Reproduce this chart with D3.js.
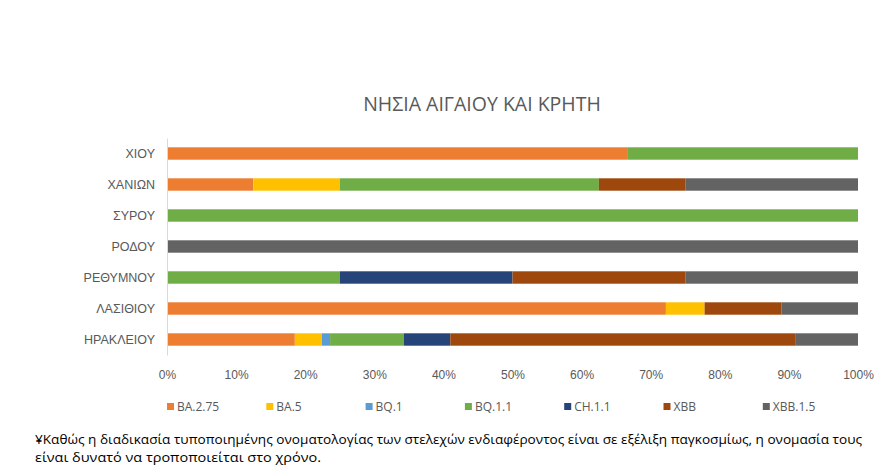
<!DOCTYPE html>
<html>
<head>
<meta charset="UTF-8">
<script src="https://d3js.org/d3.v7.min.js"></script>
<style>
  body { margin: 0; background: #fff; }
  svg { font-family: "Open Sans", "Noto Sans", sans-serif; }
  .cat text, .xax text { fill: #595959; font-size: 12px; }
  .legend text { fill: #595959; font-size: 12px; }
  .note { font-size: 12.5px; fill: #000; }
</style>
</head>
<body>
<div id="chart"></div>
<script>
// categories, top to bottom
var regions = ["ΧΙΟΥ", "ΧΑΝΙΩΝ", "ΣΥΡΟΥ", "ΡΟΔΟΥ", "ΡΕΘΥΜΝΟΥ", "ΛΑΣΙΘΙΟΥ", "ΗΡΑΚΛΕΙΟΥ"];
var variants = ["BA.2.75", "BA.5", "BQ.1", "BQ.1.1", "CH.1.1", "XBB", "XBB.1.5"];
var colors = ["#ED7D31", "#FFC000", "#5B9BD5", "#70AD47", "#264478", "#9E480E", "#636363"];

// share (%) per variant, same order as regions
var ba275 = [66.7, 12.5, 0, 0, 0, 72.2, 18.5];
var ba5   = [0, 12.5, 0, 0, 0, 5.6, 3.9];
var bq1   = [0, 0, 0, 0, 0, 0, 1.2];
var bq11  = [33.3, 37.5, 100, 0, 25, 0, 10.7];
var ch11  = [0, 0, 0, 0, 25, 0, 6.7];
var xbb   = [0, 12.5, 0, 0, 25, 11.1, 50.0];
var xbb15 = [0, 25, 0, 100, 25, 11.1, 9.0];

var xTicks = [0, 10, 20, 30, 40, 50, 60, 70, 80, 90, 100];

var width = 893, height = 471;
var plotLeft = 167, plotRight = 858, plotTop = 138, plotBottom = 355;

var series = [ba275, ba5, bq1, bq11, ch11, xbb, xbb15];
var rows = regions.map(function(r, i) {
  var o = { region: r };
  variants.forEach(function(v, j) { o[v] = series[j][i]; });
  return o;
});
var stacked = d3.stack().keys(variants)(rows);

var x = d3.scaleLinear().domain([0, 100]).range([plotLeft, plotRight]);
var y = d3.scaleBand().domain(regions).range([plotTop, plotBottom]).paddingInner(0.6).paddingOuter(0.3);
var color = d3.scaleOrdinal().domain(variants).range(colors);

var svg = d3.select("#chart").append("svg")
  .attr("width", width).attr("height", height);

svg.append("text")
  .attr("x", 482).attr("y", 111)
  .attr("text-anchor", "middle")
  .style("font-size", "19.5px").style("fill", "#595959")
  .text("ΝΗΣΙΑ ΑΙΓΑΙΟΥ ΚΑΙ ΚΡΗΤΗ");

/* bars */
svg.append("g").selectAll("g")
  .data(stacked).enter()
  .append("g")
  .attr("fill", d => color(d.key))
  .selectAll("rect")
  .data(d => d).enter()
  .append("rect")
  .attr("x", d => x(d[0]))
  .attr("y", d => y(d.data.region))
  .attr("width", d => x(d[1]) - x(d[0]))
  .attr("height", y.bandwidth());

/* y axis */
var yAxis = svg.append("g").attr("class", "cat")
  .attr("transform", `translate(${plotLeft},0)`)
  .call(d3.axisLeft(y).tickSize(0).tickPadding(12));
yAxis.select(".domain").attr("stroke", "#d9d9d9");
yAxis.selectAll("text").style("font-size", "12.5px");

/* x axis labels */
var xAxis = svg.append("g").attr("class", "xax")
  .attr("transform", `translate(0,${plotBottom + 12})`)
  .call(d3.axisBottom(x).tickValues(xTicks).tickSize(0).tickFormat(d => d + "%"));
xAxis.select(".domain").remove();

/* legend */
var legend = svg.append("g").attr("class", "legend")
  .selectAll("g").data(variants).enter()
  .append("g")
  .attr("transform", (d, i) => `translate(${167 + i * 99.3},403)`);
legend.append("rect").attr("width", 7).attr("height", 7).attr("fill", d => color(d));
legend.append("text").attr("x", 10).attr("y", 8).text(d => d);

/* footnote */
svg.append("text").attr("class", "note").attr("x", 35).attr("y", 444)
  .attr("textLength", 827).attr("lengthAdjust", "spacingAndGlyphs")
  .text("¥Καθώς η διαδικασία τυποποιημένης ονοματολογίας των στελεχών ενδιαφέροντος είναι σε εξέλιξη παγκοσμίως, η ονομασία τους");
svg.append("text").attr("class", "note").attr("x", 35).attr("y", 462)
  .attr("textLength", 286).attr("lengthAdjust", "spacingAndGlyphs")
  .text("είναι δυνατό να τροποποιείται στο χρόνο.");
</script>
</body>
</html>
